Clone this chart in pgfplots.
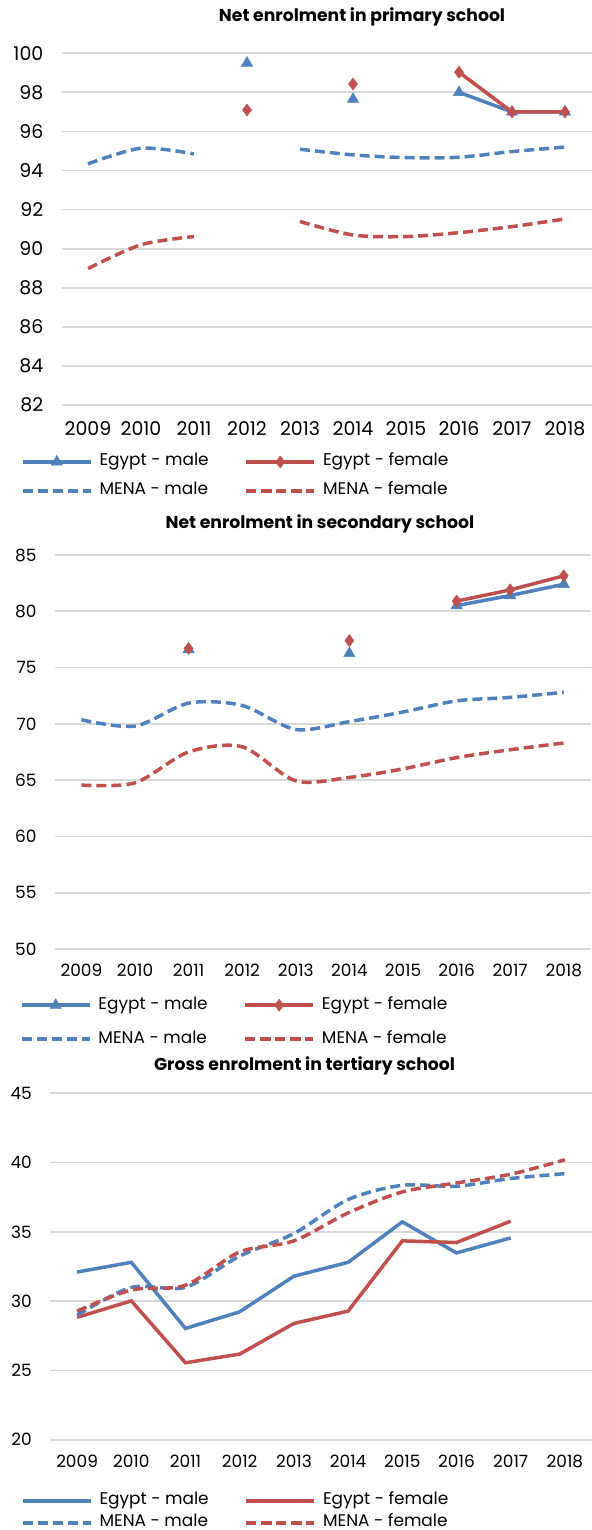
\documentclass[border=0pt]{standalone}
\usepackage{fontspec}
\setmainfont{Poppins}
\usepackage{pgfplots}
\usepackage{pgfplotstable}
\pgfplotsset{compat=1.18}

\definecolor{egblue}{HTML}{4F81BD}
\definecolor{egred}{HTML}{C0504D}
\definecolor{gridgray}{HTML}{D9D9D9}

% x = 0..9 stands for 2009..2018
\pgfplotstableread{
x  egm   egf   menam  menaf
0  nan   nan   94.34  88.98
1  nan   nan   95.14  90.20
2  nan   nan   94.85  90.62
3  99.5  97.1  nan    nan
4  nan   nan   95.09  91.39
5  97.65 98.43 94.80  90.70
6  nan   nan   94.66  90.62
7  98.0  99.03 94.68  90.82
8  97.0  97.0  94.97  91.13
9  97.0  97.0  95.20  91.52
}\primary

\pgfplotstableread{
x  egm   egf   menam  menaf
0  nan   nan   70.36  64.56
1  nan   nan   69.80  64.76
2  76.6  76.7  71.84  67.50
3  nan   nan   71.63  67.96
4  nan   nan   69.50  64.94
5  76.25 77.4  70.20  65.24
6  nan   nan   71.05  66.00
7  80.5  80.9  72.04  67.00
8  81.4  81.9  72.35  67.70
9  82.4  83.15 72.80  68.30
}\secondary

\pgfplotstableread{
x  egm   egf   menam  menaf
0  32.1  28.83 28.99  29.28
1  32.8  30.02 30.99  30.80
2  28.03 25.55 31.00  31.15
3  29.23 26.18 33.25  33.55
4  31.8  28.39 34.88  34.35
5  32.8  29.28 37.33  36.37
6  35.72 34.35 38.36  37.88
7  33.48 34.23 38.29  38.53
8  34.56 35.77 38.85  39.16
9  nan   nan   39.20  40.20
}\tertiary

\pgfplotsset{
  enrol/.style={
    scale only axis,
    xmin=-0.5, xmax=9.5,
    xtick={0,...,9},
    xticklabels={2009,2010,2011,2012,2013,2014,2015,2016,2017,2018},
    axis line style={draw=none},
    tick style={draw=none},
    ymajorgrids,
    major grid style={gridgray, line width=1.8bp},
    /pgf/number format/assume math mode=true,
    unbounded coords=jump,
    clip=false,
    yticklabel style={inner sep=0pt, anchor=east, xshift=-18bp},
    xticklabel style={inner sep=0pt, anchor=center},
    legend cell align=left,
    legend columns=2,
    legend image code/.code={
      \draw[mark repeat=2,mark phase=2,#1] plot coordinates {(0bp,0bp) (34bp,0bp) (68bp,0bp)};
    },
    legend style={draw=none, fill=none, inner sep=0pt, outer sep=0pt,
      anchor=north west, font=\fontsize{17}{17}\selectfont,
      /tikz/column sep=0pt,
      nodes={inner sep=0pt, text height=12bp, text depth=4bp}},
    title style={anchor=center, font=\bfseries\fontsize{17.3}{17.3}\selectfont},
  },
  egm/.style={egblue, line width=3.5bp, mark=triangle*, mark size=6.5bp, mark options={solid, line width=0.5bp}},
  egf/.style={egred, line width=3.5bp, mark=diamond*, mark size=6bp, mark options={solid, line width=0.5bp}},
  menam/.style={egblue, line width=3.5bp, dash pattern=on 10bp off 5bp, smooth, tension=0.5},
  menaf/.style={egred, line width=3.5bp, dash pattern=on 10bp off 5bp, smooth, tension=0.5},
}

\newcommand{\entry}[1]{\hspace*{7bp}\makebox[145bp][l]{#1}}

\begin{document}
\begin{tikzpicture}
\useasboundingbox (0,0) rectangle (592bp,1530bp);

% primary
\begin{axis}[enrol,
  at={(61.5bp,1125bp)}, anchor=south west,
  width=530bp, height=351.7bp,
  ymin=82, ymax=100, ytick={82,84,...,100},
  yticklabel style={font=\fontsize{19}{19}\selectfont},
  xticklabel style={font=\fontsize{19}{19}\selectfont, yshift=-24bp},
  title={Net enrolment in primary school},
  title style={at={(0.567,1.086)}},
  legend style={at={(-0.0764,-0.1393)}, /tikz/row sep=13bp},
]
\addplot[egm] table[x=x, y=egm] {\primary};
\addplot[egf] table[x=x, y=egf] {\primary};
\addplot[menam] table[x=x, y=menam] {\primary};
\addplot[menaf] table[x=x, y=menaf] {\primary};
\legend{\entry{Egypt - male},\entry{Egypt - female},\entry{MENA - male},\entry{MENA - female}}
\end{axis}

% secondary
\begin{axis}[enrol,
  at={(54.6bp,581bp)}, anchor=south west,
  width=536bp, height=394bp,
  ymin=50, ymax=85, ytick={50,55,...,85},
  yticklabel style={font=\fontsize{17}{17}\selectfont},
  xticklabel style={font=\fontsize{17}{17}\selectfont, yshift=-21.7bp},
  title={Net enrolment in secondary school},
  title style={at={(0.495,1.0647)}},
  legend style={at={(-0.0646,-0.1224)}, /tikz/row sep=18bp},
]
\addplot[egm] table[x=x, y=egm] {\secondary};
\addplot[egf] table[x=x, y=egf] {\secondary};
\addplot[menam] table[x=x, y=menam] {\secondary};
\addplot[menaf] table[x=x, y=menaf] {\secondary};
\legend{\entry{Egypt - male},\entry{Egypt - female},\entry{MENA - male},\entry{MENA - female}}
\end{axis}

% tertiary
\begin{axis}[enrol,
  at={(50bp,90.3bp)}, anchor=south west,
  width=542bp, height=346.4bp,
  ymin=20, ymax=45, ytick={20,25,...,45},
  yticklabel style={font=\fontsize{17}{17}\selectfont},
  xticklabel style={font=\fontsize{17}{17}\selectfont, yshift=-22bp},
  title={Gross enrolment in tertiary school},
  title style={at={(0.4696,1.0615)}},
  legend style={at={(-0.0535,-0.1537)}, /tikz/row sep=6bp},
]
\addplot[egblue, line width=3.5bp] table[x=x, y=egm] {\tertiary};
\addplot[egred, line width=3.5bp] table[x=x, y=egf] {\tertiary};
\addplot[menam] table[x=x, y=menam] {\tertiary};
\addplot[menaf] table[x=x, y=menaf] {\tertiary};
\legend{\entry{Egypt - male},\entry{Egypt - female},\entry{MENA - male},\entry{MENA - female}}
\end{axis}
\end{tikzpicture}
\end{document}
